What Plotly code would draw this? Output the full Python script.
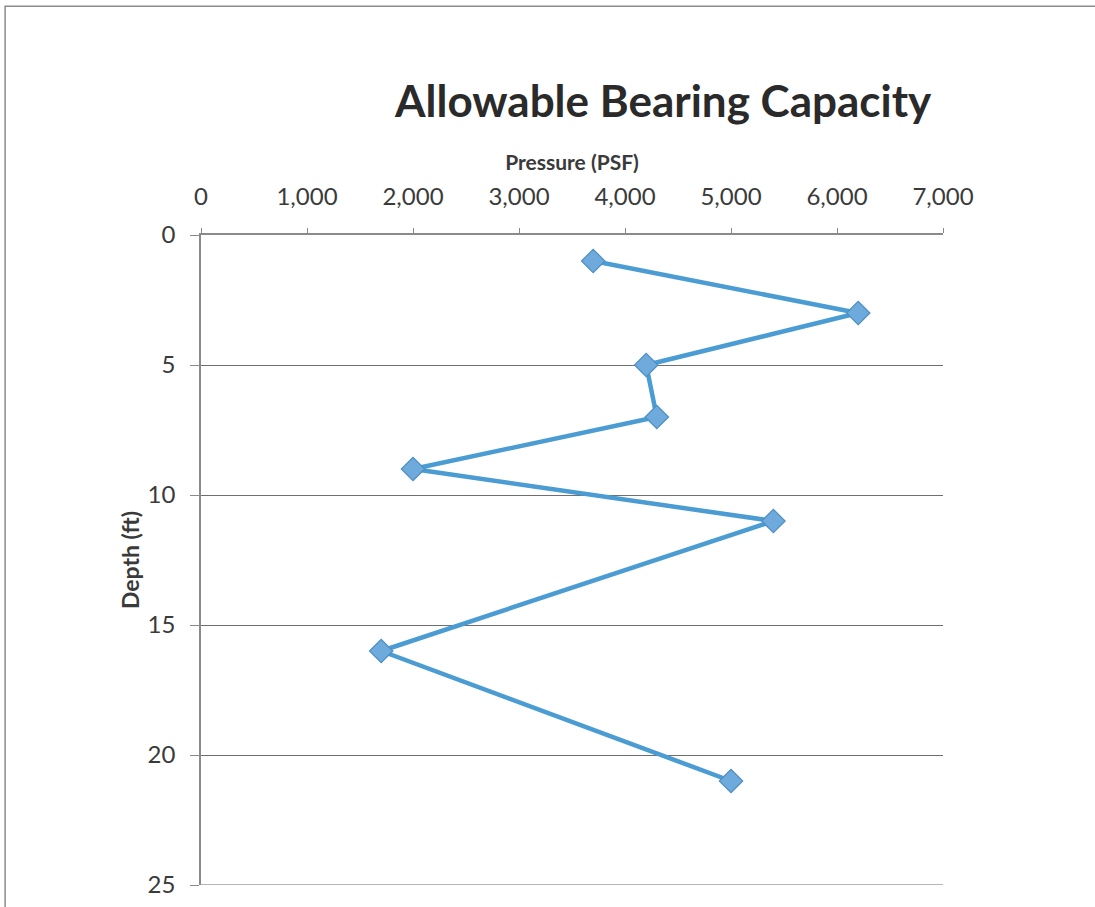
import plotly.graph_objects as go

# Allowable bearing pressure by depth
depth_ft = [1, 3, 5, 7, 9, 11, 16, 21]
pressure_psf = [3700, 6200, 4200, 4300, 2000, 5400, 1700, 5000]

x_ticks = [0, 1000, 2000, 3000, 4000, 5000, 6000, 7000]
y_ticks = [0, 5, 10, 15, 20, 25]

FONT = "Lato, 'Open Sans', sans-serif"
TEXT = "#3a3a3a"
AXIS = "#8a8a8a"

fig = go.Figure()
fig.add_trace(go.Scatter(
    x=pressure_psf,
    y=depth_ft,
    mode="lines+markers",
    line=dict(color="#4b9cd3", width=4.5),
    marker=dict(symbol="diamond", size=18, color="#6eaadc",
                line=dict(color="#4d8fc4", width=1.2)),
    showlegend=False,
))

fig.update_layout(
    width=1095,
    height=907,
    margin=dict(l=201, r=152, t=235, b=22, autoexpand=False),
    paper_bgcolor="white",
    plot_bgcolor="white",
    font=dict(family=FONT, color=TEXT),
    xaxis=dict(
        side="top",
        range=[0, 7000],
        tickvals=x_ticks,
        tickformat=",d",
        tickfont=dict(size=24, color=TEXT),
        ticks="outside",
        ticklen=5,
        tickcolor=AXIS,
        ticklabelstandoff=14,
        showline=True,
        linecolor=AXIS,
        linewidth=1.5,
        showgrid=False,
        zeroline=False,
        automargin=False,
        title=dict(text="<b>Pressure (PSF)</b>", font=dict(size=21, color=TEXT),
                   standoff=4),
    ),
    yaxis=dict(
        range=[25, 0],
        tickvals=y_ticks,
        tickfont=dict(size=24, color=TEXT),
        ticks="outside",
        ticklen=9,
        tickcolor=AXIS,
        ticklabelstandoff=10,
        showline=True,
        linecolor=AXIS,
        linewidth=1.5,
        showgrid=True,
        gridcolor="#6f6f6f",
        gridwidth=1.2,
        zeroline=False,
        automargin=False,
        title=dict(text="<b>Depth (ft)</b>", font=dict(size=23, color=TEXT),
                   standoff=2),
    ),
    annotations=[
        dict(text="<b>Allowable Bearing Capacity</b>",
             xref="paper", yref="paper", x=0.623, y=1.208,
             xanchor="center", yanchor="middle", showarrow=False,
             font=dict(size=44, color="#2a2a2a", family=FONT)),
    ],
    shapes=[
        # outer chart frame
        dict(type="rect", xref="paper", yref="paper",
             x0=-0.264, x1=1.4, y0=-0.06, y1=1.352,
             line=dict(color="#8c8c8c", width=1.5), fillcolor="rgba(0,0,0,0)",
             layer="below"),
        # bottom boundary line at 25 ft
        dict(type="line", xref="paper", yref="y", x0=0, x1=1, y0=25, y1=25,
             line=dict(color="#6f6f6f", width=1.2)),
    ],
)

fig.write_html("out.html")
